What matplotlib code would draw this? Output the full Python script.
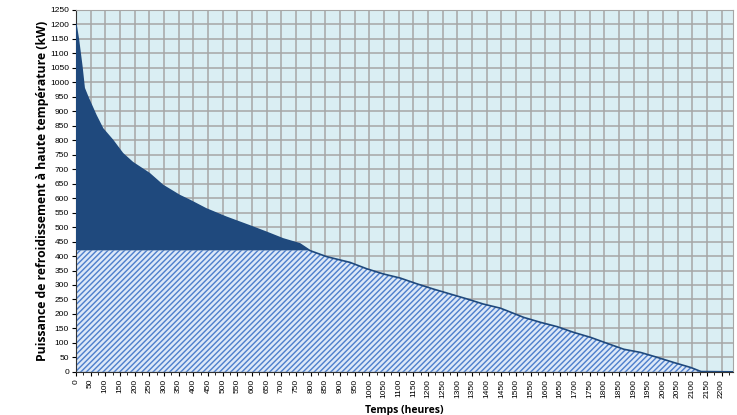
import numpy as np
import matplotlib
matplotlib.use("Agg")
import matplotlib.pyplot as plt
from matplotlib.ticker import MultipleLocator

# courbe monotone de puissance
hours = [0, 8, 20, 28, 40, 68, 91, 125, 159, 193, 250, 296, 353, 388, 443, 512,
         592, 649, 706, 763, 797, 854, 934, 991, 1048, 1105, 1162, 1218, 1275,
         1332, 1389, 1446, 1469, 1526, 1583, 1640, 1697, 1754, 1811, 1867, 1924,
         1981, 2038, 2095, 2130, 2240]
power = [1200, 1150, 1055, 980, 950, 886, 840, 800, 754, 723, 685, 644, 609,
         592, 563, 534, 504, 482, 459, 442, 419, 398, 378, 356, 338, 324, 304,
         286, 269, 252, 234, 220, 211, 188, 171, 156, 136, 119, 98, 78, 67, 50,
         32, 15, 1, 0]
threshold = 420  # puissance de base couverte

h = np.array(hours, dtype=float)
p = np.array(power, dtype=float)

plt.rcParams['font.family'] = ['Liberation Sans', 'DejaVu Sans']
plt.rcParams['hatch.color'] = '#DCE8F8'
plt.rcParams['hatch.linewidth'] = 1.8

fig = plt.figure(figsize=(7.37, 4.15), dpi=100)
ax = fig.add_axes([0.103, 0.104, 0.892, 0.872])
ax.set_facecolor('#DAEEF3')

ax.fill_between(h, np.minimum(p, threshold), 0, facecolor='#4F80CC',
                hatch='//////', linewidth=0, zorder=2)
ax.fill_between(h, np.maximum(p, threshold), threshold, facecolor='#1F497D',
                linewidth=0, zorder=3)
ax.plot(h, p, color='#1F497D', lw=1.2, zorder=4)

ax.set_xlim(0, 2240)
ax.set_ylim(0, 1250)
ax.xaxis.set_major_locator(MultipleLocator(50))
ax.xaxis.set_minor_locator(MultipleLocator(25))
ax.yaxis.set_major_locator(MultipleLocator(50))
ax.grid(True, which='major', color='#A6A6A6', lw=1.1, zorder=1)
ax.set_axisbelow(True)

ax.tick_params(axis='x', labelsize=6, labelrotation=90, length=3, pad=2)
ax.tick_params(axis='x', which='minor', length=2)
ax.tick_params(axis='y', labelsize=6, length=3, pad=2)
for s in ['top', 'right']:
    ax.spines[s].set_color('#A6A6A6')
for s in ['left', 'bottom']:
    ax.spines[s].set_color('#333333')

ax.set_xlabel('Temps (heures)', fontsize=7.5, fontweight='bold', labelpad=5,
              family=['Open Sans', 'DejaVu Sans'])
ax.set_ylabel('Puissance de refroidissement à haute température (kW)',
              fontsize=8.8, fontweight='bold', labelpad=1,
              family=['Open Sans', 'DejaVu Sans'])

fig.savefig('out.png', dpi=100)
